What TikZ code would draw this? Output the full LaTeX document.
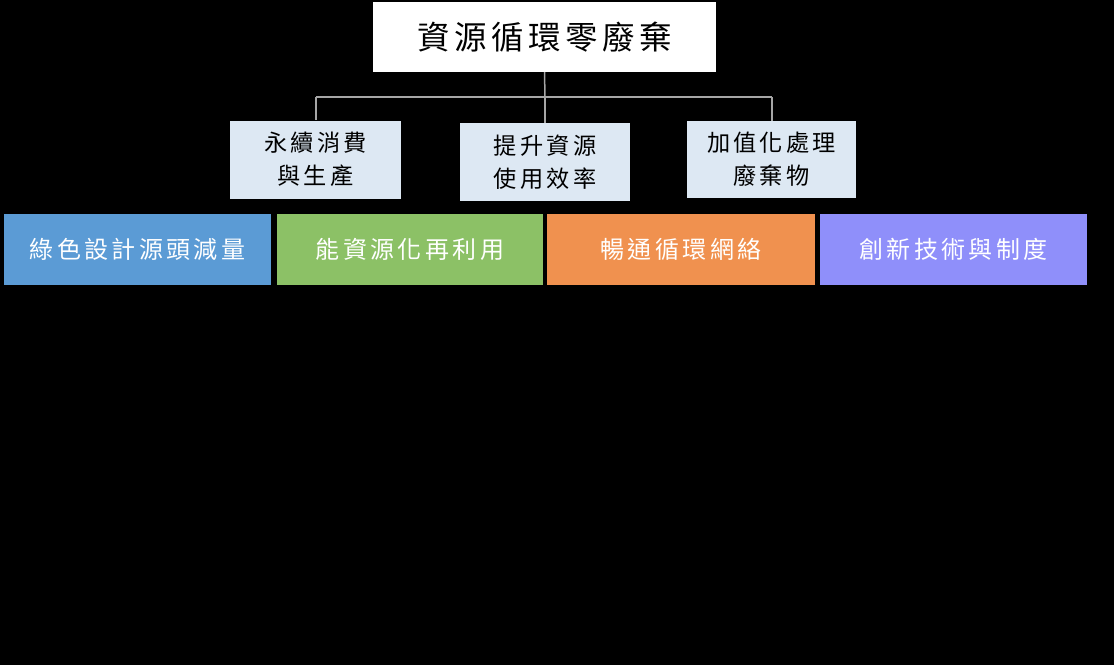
\documentclass[tikz,border=0pt]{standalone}
\usepackage{fontspec}
\newfontfamily\cjk{Noto Sans CJK TC}[LetterSpace=14]
\definecolor{midfill}{HTML}{DDE8F3}
\definecolor{cblue}{HTML}{5B9BD5}
\definecolor{cgreen}{HTML}{8CC166}
\definecolor{corange}{HTML}{F0914F}
\definecolor{cpurple}{HTML}{8F8FFA}
\definecolor{linkgray}{HTML}{A6A6A6}
\begin{document}
\begin{tikzpicture}[x=1pt,y=-1pt,
  topbox/.style={draw=none,fill=white,minimum width=343pt,minimum height=70pt,inner sep=0pt,font=\cjk\fontsize{32.5}{36}\selectfont,text=black},
  midbox/.style={draw=none,fill=midfill,minimum width=171pt,minimum height=78pt,inner sep=0pt,align=center,font=\cjk\fontsize{23.2}{33}\selectfont,text=black},
  botbox/.style={draw=none,minimum width=267pt,minimum height=71pt,inner sep=0pt,font=\cjk\fontsize{24}{28}\selectfont,text=white},
  link/.style={draw=linkgray,line width=1.5pt}]
\fill[black] (0,0) rectangle (1114,665);
\useasboundingbox (0,0) rectangle (1114,665);
\node[topbox] (top) at (544.5,37) {資源循環零廢棄};
\node[midbox] (m1) at (315.5,159.5) {永續消費\\與生產};
\node[midbox,minimum width=170pt] (m2) at (545,162) {提升資源\\使用效率};
\node[midbox,minimum width=169pt,minimum height=77pt] (m3) at (771.5,159.5) {加值化處理\\廢棄物};
\coordinate (j) at (545,97);
\coordinate (j1) at (316,97);
\coordinate (j3) at (772,97);
\draw[link] (top.south) -- (j);
\draw[link] (j1) -- (j3);
\draw[link] (j1) -- (j1|-m1.north);
\draw[link] (j) -- (m2.north);
\draw[link] (j3) -- (j3|-m3.north);
\node[botbox,fill=cblue] (b1) at (137.5,249.5) {綠色設計源頭減量};
\node[botbox,fill=cgreen,minimum width=266pt] (b2) at (410,249.5) {能資源化再利用};
\node[botbox,fill=corange,minimum width=268pt] (b3) at (681,249.5) {暢通循環網絡};
\node[botbox,fill=cpurple] (b4) at (953.5,249.5) {創新技術與制度};
\end{tikzpicture}
\end{document}
